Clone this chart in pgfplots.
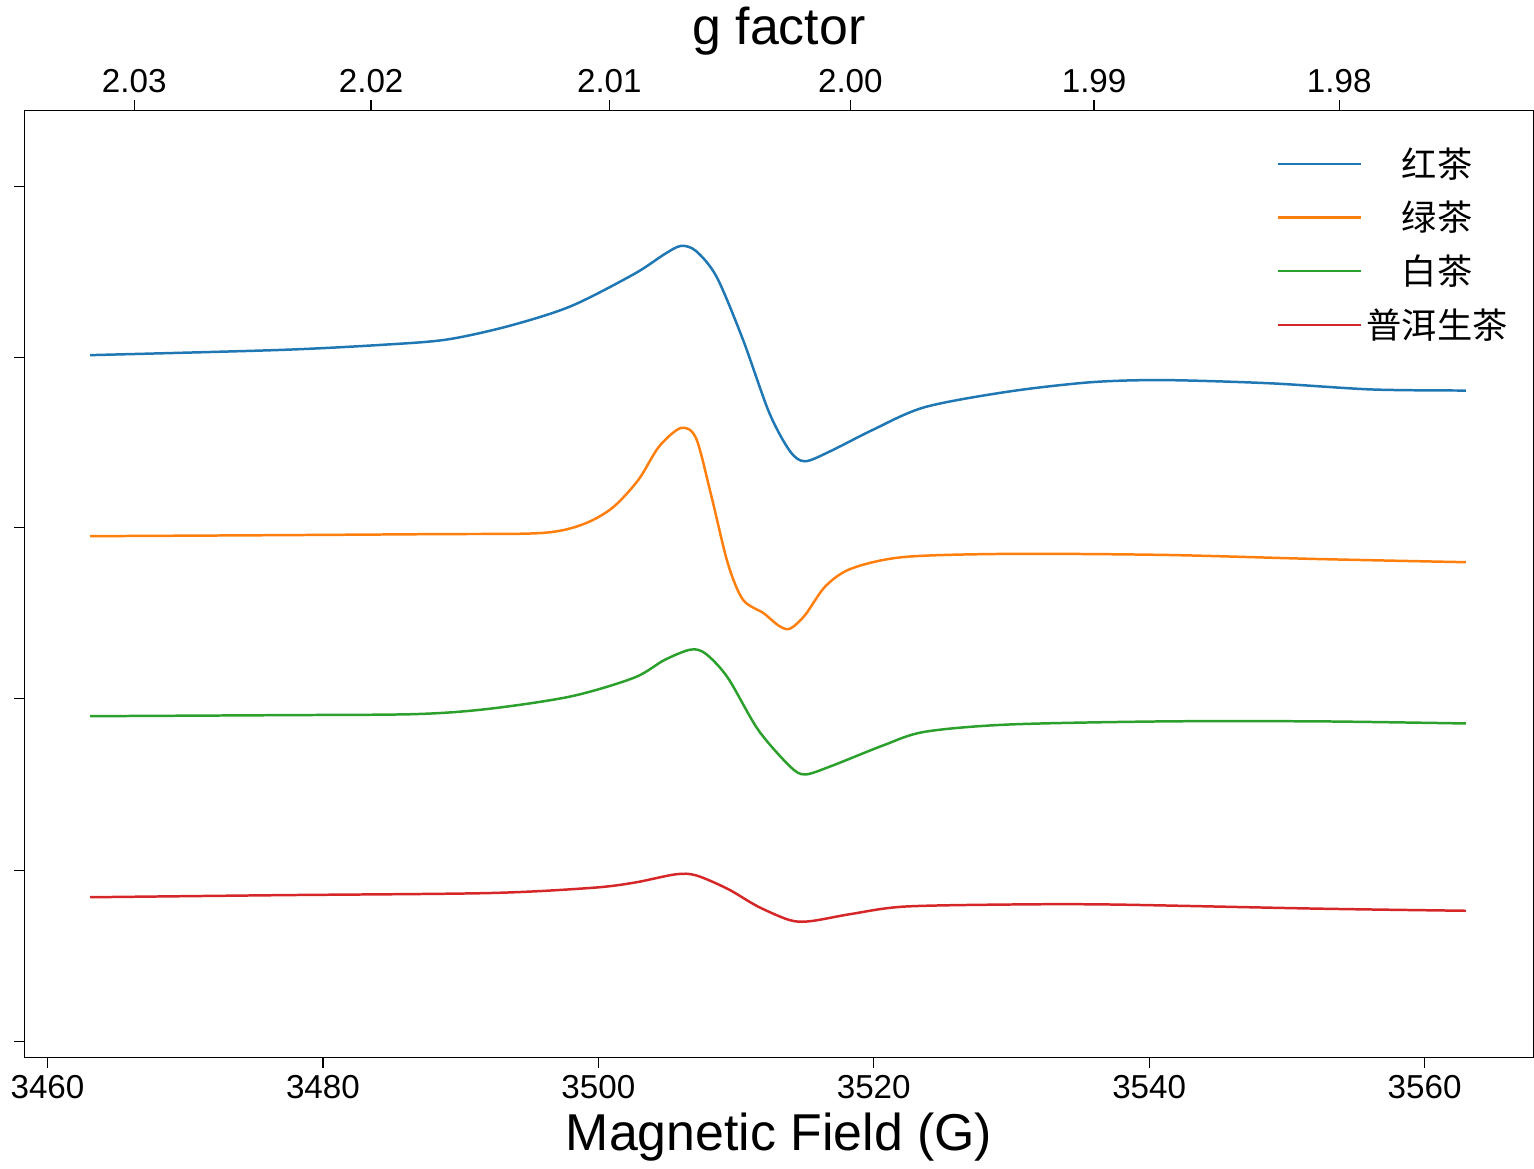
\documentclass[border=0pt]{standalone}
\usepackage{pgfplots}
\pgfplotsset{compat=1.18}
\usepackage{fontspec}
\setmainfont{Liberation Sans}
\newfontfamily\cjk{Noto Sans CJK SC}
\begin{document}
\begin{tikzpicture}
\pgfplotsset{every axis/.style={width=725bp,height=455bp,scale only axis,
 xmin=3458.34,xmax=3567.9,ymin=155,ymax=1065,y dir=reverse,
 /pgf/number format/assume math mode=true,
 tick label style={font=\fontsize{16}{18}\selectfont},
 tick style={black,line width=0.6pt},major tick length=5bp,tick align=outside}}
\begin{axis}[axis x line*=top,axis y line=none,
 xtick={3466.3,3483.5,3500.8,3518.3,3536.0,3553.8},
 xticklabels={2.03,2.02,2.01,2.00,1.99,1.98},
 xlabel={g factor},xlabel style={font=\fontsize{25}{28}\selectfont},
 ]
\end{axis}
\begin{axis}[axis line style={line width=0.6pt},
 xtick={3460,3480,...,3560},
 /pgf/number format/1000 sep={},
 ytick={228,392,556,720,885,1050},yticklabels={},
 xtick pos=bottom,ytick pos=left,
 xlabel={Magnetic Field (G)},xlabel style={font=\fontsize{25}{28}\selectfont},
 legend style={draw=none,fill=none,at={(0.99,0.97)},anchor=north east,font=\cjk\fontsize{17}{20}\selectfont,row sep=6bp},
 legend image code/.code={\draw[#1,line width=1.2pt] (0bp,0bp)--(40bp,0bp);},
 every axis plot/.append style={line width=1.2pt,smooth}]
\addplot[color={rgb,255:red,31;green,119;blue,180}] coordinates {
(3463.1,390)(3476.9,385)(3484.4,380)(3489,375)(3493.5,362)(3498,343)(3502.6,312)(3504.8,293)(3506,285)(3507.1,290)(3508.6,315)(3510.5,375)(3512.4,445)(3513.9,482)(3515,492)(3516.9,482)(3519.9,462)(3523.7,440)(3529.8,425)(3535.8,416)(3541.1,414)(3548.7,417)(3556.2,423)(3563,424)};
\addlegendentry{红茶}
\addplot[color={rgb,255:red,255;green,127;blue,14}] coordinates {
(3463.1,564)(3476.9,563)(3488.2,562)(3495.8,561)(3498.8,553)(3501.0,537)(3502.9,510)(3504.4,478)(3506.0,460)(3507.1,470)(3508.2,525)(3509.4,590)(3510.5,625)(3512.0,638)(3513.1,650)(3513.9,653)(3515.0,640)(3516.5,612)(3518.4,595)(3522.2,584)(3529.8,581)(3541.1,582)(3552.4,586)(3563.0,589)};
\addlegendentry{绿茶}
\addplot[color={rgb,255:red,44;green,160;blue,44}] coordinates {
(3463.1,737)(3476.9,736)(3486.7,735)(3492.0,730)(3498.0,718)(3502.6,700)(3504.8,683)(3506.7,673)(3507.8,677)(3509.4,700)(3511.6,750)(3513.9,785)(3515.0,793)(3516.9,785)(3520.7,765)(3523.7,752)(3529.8,745)(3541.1,742)(3552.4,742)(3563.0,744)};
\addlegendentry{白茶}
\addplot[color={rgb,255:red,214;green,39;blue,40}] coordinates {
(3463.1,911)(3476.9,909)(3492.0,907)(3499.5,902)(3502.6,897)(3505.6,889)(3507.1,890)(3509.4,903)(3511.6,920)(3513.9,933)(3515.4,934)(3518.4,927)(3522.2,920)(3529.8,918)(3537.3,918)(3552.4,922)(3563.0,924)};
\addlegendentry{普洱生茶}
\end{axis}
\end{tikzpicture}
\end{document}
